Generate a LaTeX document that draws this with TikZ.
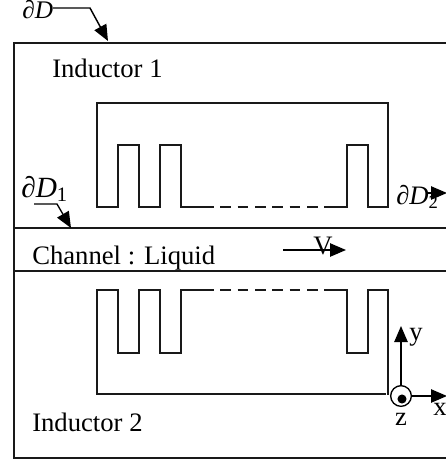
\documentclass[tikz,border=0pt]{standalone}
\usepackage{fontspec}
\setmainfont{Liberation Serif}
\usetikzlibrary{arrows.meta}
\tikzset{
	coil/.style={line width=1pt,black!90},
	wall/.style={line width=1.1pt,black!90},
	flux/.style={-{Triangle[length=12pt,width=10pt]},line width=1.1pt,black},
	label/.style={font=\fontsize{20}{22}\selectfont,inner sep=0pt,anchor=base west},
	bound/.style={font=\fontsize{#1}{22}\selectfont\itshape,inner sep=0pt,anchor=base west},
}
\begin{document}
\begin{tikzpicture}[x=0.75pt,y=-0.75pt]
			\clip (0,0) rectangle (446,461);
			\draw[wall] (446,43)--(14,43)--(14,458)--(446,458);
			\draw[coil] (14,228)--(446,228);
			\draw[coil] (14,271)--(446,271);
			\draw[coil] (203,207)--(181,207)--(181,145)--(160,145)--(160,207)--(139,207)--(139,145)--(118,145)--(118,207)--(97,207)--(97,103)--(388,103)--(388,207)--(368,207)--(368,145)--(347,145)--(347,207)--(327,207);
			\draw[coil,dashed,dash pattern=on 8pt off 5pt] (203,207)--(327,207);
			\draw[coil] (203,290)--(181,290)--(181,353)--(160,353)--(160,290)--(139,290)--(139,353)--(118,353)--(118,290)--(97,290)--(97,394)--(386,394);
			\draw[coil] (327,290)--(347,290)--(347,353)--(368,353)--(368,290)--(388,290)--(388,395);
			\draw[coil,dashed,dash pattern=on 8pt off 5pt] (203,290)--(327,290);
			\node[label] (inductor1) at (52,77) {Inductor 1};
			\node[label] (channel) at (32,264) {Channel : Liquid};
			\node[label] (inductor2) at (32,431) {Inductor 2};
			\node[label,anchor=base] (speed) at (323,254) {V};
			\node[bound=19] (dD) at (22,18) {∂D};
			\node[bound=22] (dD1) at (21,197) {∂D\textsubscript{\upshape 1}};
			\node[bound=20] (dD2) at (396,204) {∂D\textsubscript{\upshape 2}};
			\coordinate (dDa) at (53,8);
			\coordinate (dDb) at (90,8);
			\coordinate (dDc) at (108,41);
			\coordinate (dD1a) at (34,204);
			\coordinate (dD1b) at (57,204);
			\coordinate (dD1c) at (71,228);
			\draw[flux] (dDa)--(dDb)--(dDc);
			\draw[flux,line width=1pt] (dD1a)--(dD1b)--(dD1c);
			\draw[flux] (427,193)--(447,193);
			\draw[flux] (283,250)--(346,250);
			\node[circle,draw,line width=1pt,minimum size=15.5pt,inner sep=0pt] (zaxis) at (401,396) {};
			\fill (402,399) circle (3.4pt);
			\draw[flux] (zaxis.north)--(401,326);
			\draw[flux] (zaxis.east)--(447,396);
			\node[label,anchor=base] (yname) at (416,340) {y};
			\node[label,anchor=base] (zname) at (401,425) {z};
			\node[label,anchor=base] (xname) at (440,415) {x};
			\end{tikzpicture}
\end{document}
